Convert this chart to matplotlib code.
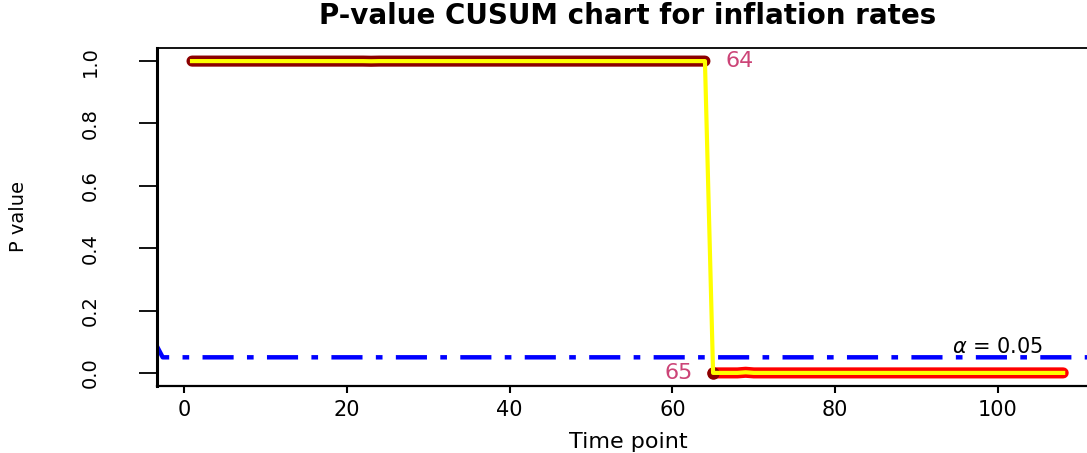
import matplotlib
matplotlib.use("Agg")
import matplotlib.pyplot as plt
import numpy as np

# p-values of the CUSUM chart, time points 1..108
t = np.arange(1, 109)
p_in = [1.0] * 64          # time points 1..64
p_in[22] = 0.9995
p_out = [0.0] * 44         # time points 65..108
p_out[4] = 0.002
pval = np.array(p_in + p_out)
alpha = 0.05
change_before, change_after = 64, 65

xticks = [0, 20, 40, 60, 80, 100]
yticks = [0.0, 0.2, 0.4, 0.6, 0.8, 1.0]

plt.rcParams['font.family'] = ['DejaVu Sans']

fig = plt.figure(figsize=(10.87, 4.53), dpi=100)
ax = fig.add_axes([157 / 1087, 67 / 453, 942 / 1087, 338 / 453])

# alpha line
ax.plot([-4.0, -2.6, 115], [0.12, alpha, alpha], color='blue', lw=3.2,
        dashes=(7, 3, 1.5, 3), solid_capstyle='butt', zorder=2)
ax.text(100, alpha + 0.002, r'$\alpha$ = 0.05', ha='center', va='bottom',
        fontsize=15, color='black')

# p-value series
i64 = change_before
ax.plot(t[:i64], pval[:i64], color='darkred', lw=8, solid_capstyle='round', zorder=3)
ax.plot(t[i64:], pval[i64:], color='red', lw=8, solid_capstyle='round', zorder=3)
ax.plot([t[i64]], [pval[i64]], 'o', color='darkred', ms=8, zorder=3)
ax.plot(t, pval, color='yellow', lw=3, zorder=4)

ax.text(change_before + 2.5, pval[i64 - 1], str(change_before), color='#cc4477',
        fontsize=16, ha='left', va='center')
ax.text(change_after - 2.5, pval[i64], str(change_after), color='#cc4477',
        fontsize=16, ha='right', va='center')

ax.set_xlim(-3.3, 112.4)
ax.set_ylim(-0.042, 1.042)
ax.set_xticks(xticks)
ax.set_yticks(yticks)
ax.set_yticklabels([f"{v:.1f}" for v in yticks], rotation=90, va='center')
ax.tick_params(axis='x', length=5, width=1.5, pad=5, labelsize=15)
ax.tick_params(axis='y', length=13, width=1.3, pad=28, labelsize=14)

ax.spines['left'].set_linewidth(2.2)
ax.spines['bottom'].set_linewidth(1.6)
ax.spines['top'].set_linewidth(1.3)
ax.spines['right'].set_linewidth(1.3)

ax.set_xlabel('Time point', fontsize=16, labelpad=9)
ax.set_ylabel('P value', fontsize=14, labelpad=38)
ax.set_title('P-value CUSUM chart for inflation rates', fontsize=20,
             fontweight='bold', pad=17)

fig.savefig('out.png', dpi=100)
